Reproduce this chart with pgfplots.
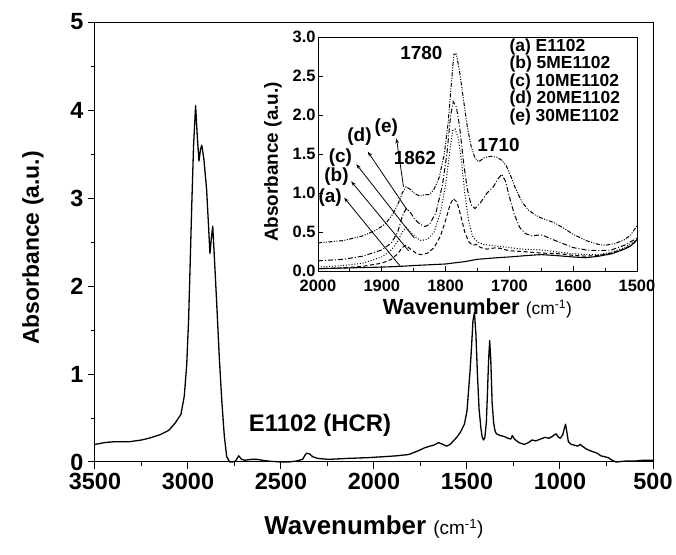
\documentclass[border=0pt]{standalone}
\usepackage{fontspec}
\setmainfont{Liberation Sans}
\usepackage{pgfplots}
\pgfplotsset{compat=1.18}
\usetikzlibrary{arrows.meta}
\begin{document}
\begin{tikzpicture}
\useasboundingbox (0,0) rectangle (676bp,555bp);
% ---------------- main axis ----------------
\begin{axis}[
  at={(95bp,93bp)}, anchor=south west,
  width=558bp, height=440bp, scale only axis,
  x dir=reverse, xmin=500, xmax=3500, ymin=0, ymax=5,
  xtick={500,1000,...,3500}, minor xtick={750,1250,...,3250},
  ytick={0,1,...,5}, minor ytick={0.5,1.5,...,4.5},
  tick pos=left, tick align=outside,
  major tick length=7bp, minor tick length=4bp,
  every tick/.style={black, line width=1bp},
  axis line style={line width=1bp},
  /pgf/number format/assume math mode=true,
  /pgf/number format/1000 sep={},
  ticklabel style={font=\fontsize{23.5}{23.5}\selectfont\bfseries},
  xticklabel style={yshift=-1bp},
  yticklabel style={xshift=-1bp},
  xlabel={\bfseries Wavenumber {\mdseries\fontsize{19}{19}\selectfont(cm\textsuperscript{-1})}},
  ylabel={Absorbance (a.u.)},
  xlabel style={font=\fontsize{26}{26}\selectfont\bfseries, yshift=-19bp},
  ylabel style={font=\fontsize{23}{23}\selectfont\bfseries, yshift=20bp, xshift=-6bp},
  clip=false,
]
\addplot[black, line width=1.3bp, line join=round] coordinates {
(3500,0.20) (3450,0.22) (3400,0.23) (3317,0.23) (3250,0.25) (3210,0.27) (3150,0.31)
(3103,0.36) (3070,0.44) (3038,0.54) (3020,0.75) (3007,1.1) (2997,1.6) (2989,2.2)
(2980,2.9) (2970,3.6) (2959,4.05) (2950,3.7) (2941,3.42) (2933,3.55) (2926,3.6)
(2915,3.45) (2900,3.1) (2890,2.7) (2882,2.37) (2874,2.55) (2867,2.68) (2860,2.4)
(2846,1.82) (2832,1.2) (2819,0.72) (2805,0.3) (2792,0.06) (2775,0.0) (2760,0.0)
(2745,0.01) (2727,0.07) (2712,0.03) (2695,0.02) (2660,0.03) (2630,0.03) (2600,0.02)
(2566,0.01) (2500,0.0) (2459,0.0) (2420,0.01) (2384,0.03) (2370,0.08) (2362,0.1)
(2345,0.09) (2330,0.06) (2300,0.04) (2244,0.03) (2150,0.04) (2029,0.05) (1950,0.06)
(1880,0.07) (1814,0.085) (1770,0.12) (1729,0.16) (1700,0.18) (1680,0.19) (1653,0.22)
(1630,0.2) (1610,0.18) (1590,0.2) (1578,0.23) (1555,0.28) (1535,0.34) (1514,0.43)
(1500,0.58) (1492,0.8) (1483,1.05) (1475,1.33) (1468,1.6) (1460,1.70) (1452,1.45)
(1444,1.0) (1435,0.6) (1425,0.38) (1418,0.28) (1411,0.25) (1404,0.28) (1396,0.45)
(1390,0.78) (1384,1.15) (1378,1.38) (1372,1.15) (1365,0.68) (1357,0.45) (1350,0.36)
(1342,0.32) (1320,0.3) (1300,0.29) (1280,0.27) (1265,0.26) (1256,0.3) (1245,0.26)
(1220,0.22) (1192,0.2) (1170,0.22) (1150,0.25) (1130,0.24) (1106,0.26) (1080,0.28)
(1060,0.27) (1041,0.29) (1030,0.31) (1020,0.32) (1008,0.28) (998,0.27) (985,0.31)
(978,0.37) (970,0.43) (963,0.34) (955,0.23) (940,0.2) (920,0.19) (905,0.18) (891,0.2)
(880,0.18) (860,0.15) (840,0.13) (827,0.12) (800,0.1) (780,0.07) (760,0.06) (741,0.05)
(720,0.02) (698,0.0) (650,0.01) (600,0.01) (550,0.02) (527,0.02) (500,0.02)
};
\node[font=\fontsize{24}{24}\selectfont\bfseries] at (axis cs:2290,0.42) {E1102 (HCR)};
\end{axis}
% ---------------- inset ----------------
\begin{axis}[
  at={(318bp,284bp)}, anchor=south west,
  width=319bp, height=234bp, scale only axis,
  x dir=reverse, xmin=1500, xmax=2000, ymin=0, ymax=3,
  xtick={1500,1600,...,2000}, minor xtick={1550,1650,...,1950},
  ytick={0,0.5,...,3},
  tick pos=left, tick align=inside,
  major tick length=5bp, minor tick length=3bp,
  every tick/.style={black, line width=0.8bp},
  axis line style={line width=0.8bp},
  /pgf/number format/assume math mode=true,
  /pgf/number format/1000 sep={},
  yticklabel style={/pgf/number format/fixed, /pgf/number format/fixed zerofill, /pgf/number format/precision=1, xshift=1bp},
  ticklabel style={font=\fontsize{16.5}{16.5}\selectfont\bfseries},
  xticklabel style={yshift=-6bp},
  xlabel={\bfseries Wavenumber {\mdseries\fontsize{17.5}{17.5}\selectfont(cm\textsuperscript{-1})}},
  ylabel={Absorbance (a.u.)},
  xlabel style={font=\fontsize{22}{22}\selectfont\bfseries, yshift=0bp},
  ylabel style={font=\fontsize{19}{19}\selectfont\bfseries, yshift=4bp, xshift=-8bp},
  clip=false,
]
% (a) solid
\addplot[black, line width=1.1bp] coordinates {
(2000,0.03) (1950,0.04) (1900,0.05) (1870,0.06) (1850,0.07) (1800,0.09) (1770,0.12)
(1750,0.15) (1720,0.17) (1700,0.18) (1670,0.2) (1650,0.21) (1630,0.2) (1600,0.18)
(1580,0.17) (1560,0.19) (1540,0.22) (1520,0.28) (1510,0.32) (1500,0.4)
};
% (b) dashed
\addplot[black, line width=1bp, dash pattern=on 4bp off 2.5bp] coordinates {
(2000,0.03) (1960,0.04) (1930,0.06) (1900,0.1) (1885,0.15) (1875,0.22) (1868,0.3)
(1862,0.33) (1855,0.28) (1845,0.22) (1838,0.21) (1828,0.23) (1818,0.3) (1808,0.45)
(1800,0.65) (1793,0.85) (1788,0.93) (1782,0.88) (1776,0.7) (1770,0.5) (1764,0.38)
(1758,0.33) (1752,0.34) (1745,0.3) (1735,0.28) (1720,0.3) (1700,0.26) (1680,0.25)
(1650,0.23) (1620,0.22) (1600,0.2) (1580,0.19) (1560,0.2) (1540,0.23) (1520,0.28)
(1500,0.38)
};
% (c) dotted
\addplot[black, line width=1bp, dash pattern=on 1bp off 1.8bp] coordinates {
(2000,0.05) (1960,0.07) (1930,0.1) (1900,0.18) (1885,0.27) (1875,0.38) (1868,0.5)
(1862,0.56) (1855,0.5) (1845,0.42) (1838,0.39) (1828,0.41) (1818,0.5) (1808,0.75)
(1800,1.1) (1794,1.5) (1789,1.8) (1785,1.82) (1780,1.7) (1775,1.4) (1770,1.0)
(1764,0.65) (1758,0.45) (1750,0.37) (1740,0.34) (1720,0.32) (1700,0.3) (1680,0.28)
(1650,0.27) (1620,0.24) (1600,0.22) (1580,0.21) (1560,0.21) (1540,0.24) (1520,0.3)
(1500,0.4)
};
% (d) dash-dot
\addplot[black, line width=1bp, dash pattern=on 5bp off 2bp on 1bp off 2bp] coordinates {
(2000,0.13) (1960,0.15) (1930,0.19) (1900,0.27) (1885,0.36) (1875,0.5) (1868,0.7)
(1862,0.8) (1856,0.76) (1848,0.66) (1840,0.6) (1832,0.57) (1825,0.6) (1815,0.75)
(1805,1.1) (1798,1.5) (1792,2.0) (1788,2.17) (1783,2.1) (1778,1.85) (1772,1.4)
(1766,1.05) (1760,0.85) (1754,0.8) (1745,0.88) (1735,1.0) (1725,1.08) (1718,1.18)
(1712,1.24) (1706,1.15) (1700,0.95) (1692,0.72) (1684,0.56) (1675,0.48) (1665,0.45)
(1655,0.46) (1648,0.46) (1640,0.43) (1625,0.38) (1600,0.3) (1580,0.27) (1560,0.26)
(1540,0.27) (1520,0.33) (1500,0.42)
};
% (e) dash-dot-dot
\addplot[black, line width=1bp, dash pattern=on 4bp off 1.5bp on 1bp off 1.5bp on 1bp off 1.5bp] coordinates {
(2000,0.36) (1960,0.39) (1930,0.45) (1910,0.52) (1895,0.6) (1885,0.7) (1875,0.85)
(1868,1.0) (1862,1.08) (1856,1.05) (1848,0.99) (1840,0.96) (1832,0.98) (1825,0.98)
(1818,1.05) (1810,1.2) (1802,1.5) (1796,1.9) (1791,2.4) (1787,2.78) (1783,2.78)
(1778,2.55) (1772,2.2) (1766,1.85) (1760,1.6) (1754,1.45) (1748,1.4) (1740,1.45)
(1730,1.47) (1720,1.46) (1712,1.42) (1705,1.35) (1698,1.22) (1690,1.05) (1680,0.88)
(1670,0.78) (1660,0.72) (1650,0.68) (1630,0.62) (1615,0.55) (1600,0.47) (1580,0.39)
(1560,0.34) (1550,0.33) (1535,0.35) (1520,0.4) (1510,0.46) (1500,0.58)
};
% arrows
\draw[black, line width=0.8bp, -{Stealth[length=5bp,width=3.5bp]}] (axis cs:1871,0.06) -- (axis cs:1959,0.94);
\draw[black, line width=0.8bp, -{Stealth[length=5bp,width=3.5bp]}] (axis cs:1858,0.26) -- (axis cs:1948,1.15);
\draw[black, line width=0.8bp, -{Stealth[length=5bp,width=3.5bp]}] (axis cs:1849,0.42) -- (axis cs:1940,1.37);
\draw[black, line width=0.8bp, -{Stealth[length=5bp,width=3.5bp]}] (axis cs:1860,0.78) -- (axis cs:1922,1.53);
\draw[black, line width=0.8bp, -{Stealth[length=5bp,width=3.5bp]}] (axis cs:1866,1.08) -- (axis cs:1877,1.70);
\begin{scope}[every node/.style={font=\fontsize{19}{19}\selectfont\bfseries, inner sep=0pt}]
\node at (axis cs:1981,0.94) {(a)};
\node at (axis cs:1971,1.21) {(b)};
\node at (axis cs:1965,1.45) {(c)};
\node at (axis cs:1935,1.72) {(d)};
\node at (axis cs:1893,1.84) {(e)};
\node at (axis cs:1838,2.79) {1780};
\node at (axis cs:1848,1.45) {1862};
\node at (axis cs:1717,1.61) {1710};
\end{scope}
\node[anchor=north west, align=left, inner sep=0pt, font=\fontsize{17.5}{17.6}\selectfont\bfseries]
  at (axis cs:1700,2.98) {(a) E1102\\(b) 5ME1102\\(c) 10ME1102\\(d) 20ME1102\\(e) 30ME1102};
\end{axis}
\end{tikzpicture}
\end{document}
